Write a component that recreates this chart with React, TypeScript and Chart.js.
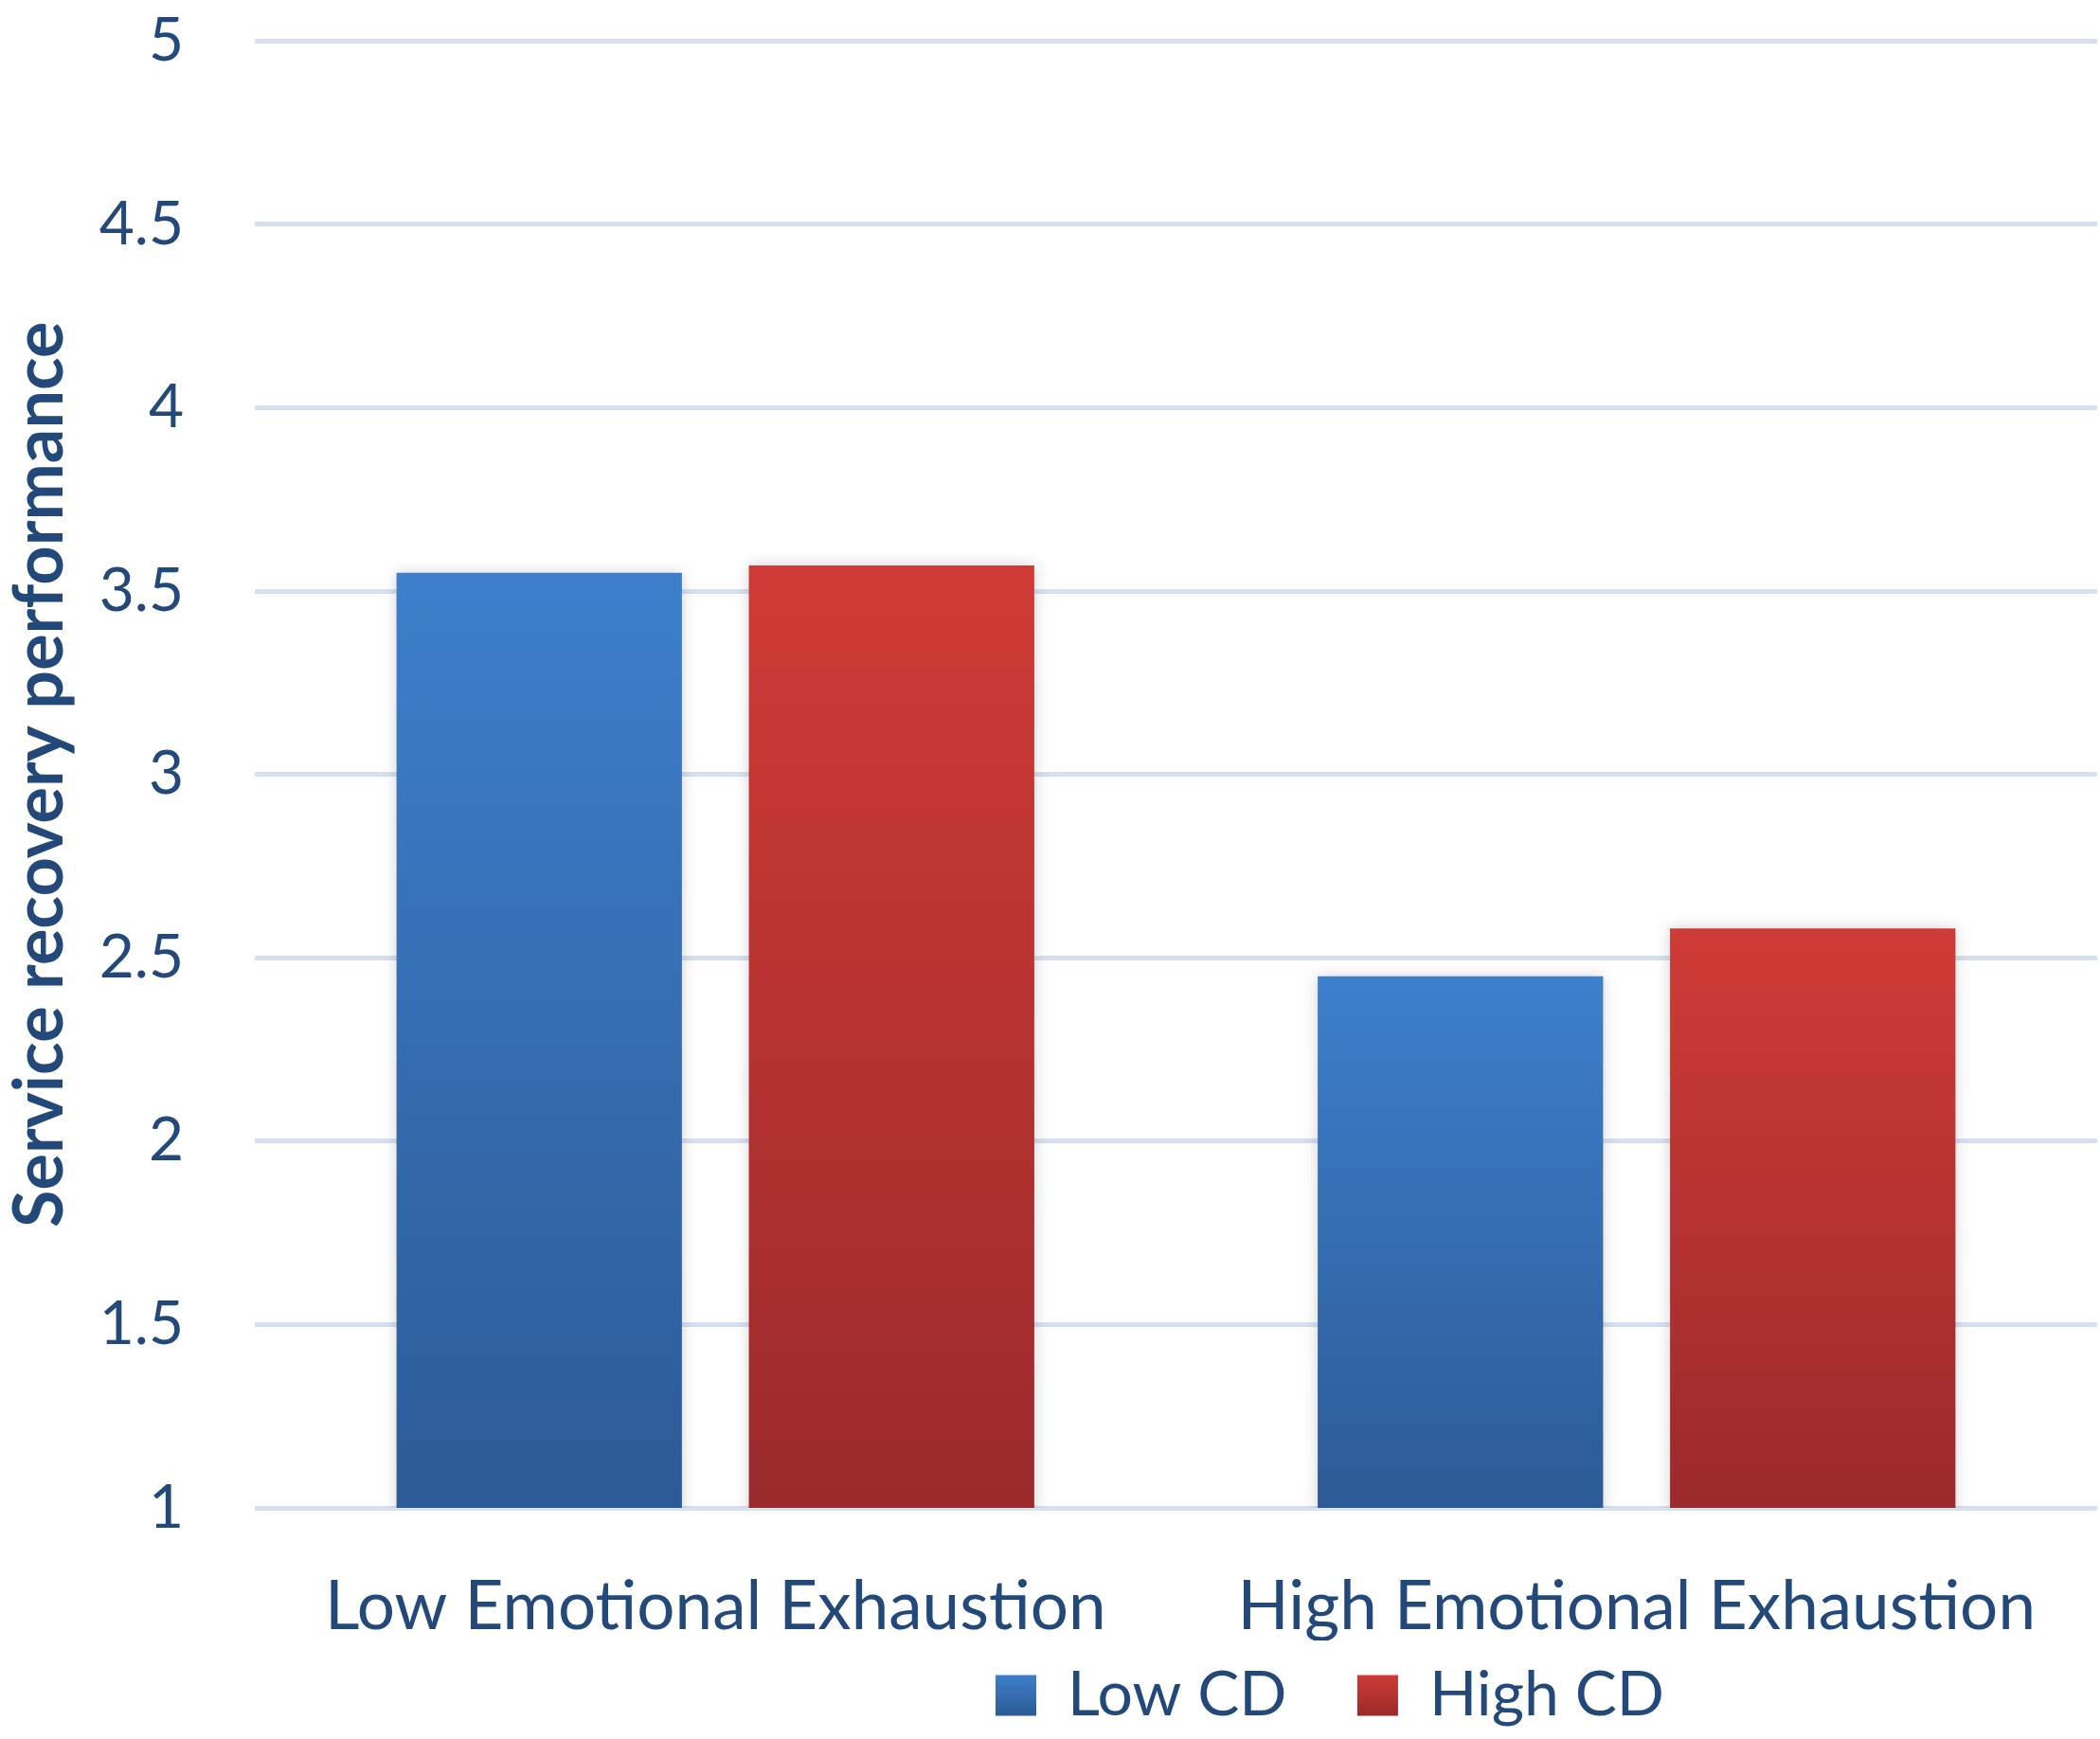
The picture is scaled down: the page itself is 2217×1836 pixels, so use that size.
import { useEffect, useRef } from "react";
import { Chart, registerables } from "chart.js";

Chart.register(...registerables);

const categories = ["Low Emotional Exhaustion", "High Emotional Exhaustion"];
const seriesNames = ["Low CD", "High CD"];
const lowCD = [3.55, 2.45];
const highCD = [3.57, 2.58];
const yTicks = [1, 1.5, 2, 2.5, 3, 3.5, 4, 4.5, 5];

const textColor = "#23497a";
const fontFamily = "Lato, 'Open Sans', sans-serif";

// top / bottom colours of the bar gradients
const blue = ["#3d7fcb", "#2c5b96"];
const red = ["#cf3b36", "#9b2a2b"];
const seriesColors = [blue, red];

const legendFont = 66;
const legendBox = 43;
const legendPad = 25;

function barFill(colors: string[]) {
  return (ctx: any) => {
    const chart = ctx.chart;
    const y = chart.scales?.y;
    if (ctx.type !== "data" || !y) return colors[1];
    const top = y.getPixelForValue(ctx.parsed.y);
    const bottom = y.getPixelForValue(yTicks[0]);
    if (!isFinite(top) || !isFinite(bottom)) return colors[0];
    const g = chart.ctx.createLinearGradient(0, top, 0, bottom);
    g.addColorStop(0, colors[0]);
    g.addColorStop(1, colors[1]);
    return g;
  };
}

const barShadow = {
  id: "barShadow",
  beforeDatasetsDraw(chart: any) {
    const c = chart.ctx;
    c.save();
    c.shadowColor = "rgba(0,0,0,0.18)";
    c.shadowBlur = 14;
    c.shadowOffsetX = 0;
    c.shadowOffsetY = 0;
  },
  afterDatasetsDraw(chart: any) {
    chart.ctx.restore();
  },
};

// the legend sits right of centre in the original
const legendShift = {
  id: "legendShift",
  afterLayout(chart: any) {
    if (chart.legend) {
      chart.legend.left += 297;
      chart.legend.right += 297;
    }
  },
};

export default function App() {
  const canvasRef = useRef<HTMLCanvasElement>(null);
  const chartRef = useRef<Chart | null>(null);

  useEffect(() => {
    if (!canvasRef.current) return;
    if (chartRef.current) chartRef.current.destroy();

    chartRef.current = new Chart(canvasRef.current, {
      type: "bar",
      data: {
        labels: categories,
        datasets: [
          {
            label: seriesNames[0],
            data: lowCD,
            backgroundColor: barFill(blue) as any,
            categoryPercentage: 0.765,
            barPercentage: 0.81,
          },
          {
            label: seriesNames[1],
            data: highCD,
            backgroundColor: barFill(red) as any,
            categoryPercentage: 0.765,
            barPercentage: 0.81,
          },
        ],
      },
      options: {
        responsive: false,
        devicePixelRatio: 1,
        animation: false,
        layout: { padding: { left: 0, right: 3, top: 42, bottom: 3 } },
        plugins: {
          tooltip: { enabled: false },
          legend: {
            position: "bottom",
            labels: {
              color: textColor,
              font: { family: fontFamily, size: legendFont },
              boxWidth: legendBox,
              boxHeight: legendBox,
              padding: legendPad,
              generateLabels(chart: any) {
                const items = Chart.defaults.plugins.legend.labels.generateLabels(chart);
                const lg = chart.legend;
                return items.map((it: any, i: number) => {
                  const out = { ...it, lineWidth: 0 };
                  // wider gap between the two entries
                  if (i < items.length - 1) out.text = it.text + "\u2003";
                  const cols = seriesColors[i];
                  if (cols && lg && isFinite(lg.top)) {
                    const y0 = lg.top + legendPad + (legendFont - legendBox) / 2;
                    const g = chart.ctx.createLinearGradient(0, y0, 0, y0 + legendBox);
                    g.addColorStop(0, cols[0]);
                    g.addColorStop(1, cols[1]);
                    out.fillStyle = g;
                  }
                  return out;
                });
              },
            },
          },
        },
        scales: {
          x: {
            grid: { display: false },
            border: { display: false },
            ticks: {
              color: textColor,
              font: { family: fontFamily, size: 71 },
              padding: 55,
              maxRotation: 0,
              autoSkip: false,
            },
            afterFit(scale: any) {
              scale.height = 140;
            },
          },
          y: {
            min: yTicks[0],
            max: yTicks[yTicks.length - 1],
            afterBuildTicks(scale: any) {
              scale.ticks = yTicks.map((v) => ({ value: v }));
            },
            grid: {
              color: "#d5e1f1",
              lineWidth: 5,
              drawTicks: true,
              tickLength: 70,
              tickColor: "rgba(0,0,0,0)",
            },
            border: { display: false },
            ticks: {
              color: textColor,
              font: { family: fontFamily, size: 64 },
              padding: 5,
              callback: (v: any) => String(v),
            },
            title: {
              display: true,
              text: "Service recovery performance",
              color: textColor,
              font: { family: fontFamily, size: 72, weight: "bold" },
              padding: { top: 0, bottom: 0 },
            },
            afterFit(scale: any) {
              scale.width = 269;
            },
          },
        },
      },
      plugins: [barShadow, legendShift],
    });

    return () => {
      if (chartRef.current) {
        chartRef.current.destroy();
        chartRef.current = null;
      }
    };
  }, []);

  return (
    <div style={{ position: "fixed", left: 0, top: 0, width: 2217, height: 1836, background: "#fff" }}>
      <canvas ref={canvasRef} width={2217} height={1836} style={{ width: 2217, height: 1836 }}></canvas>
    </div>
  );
}
